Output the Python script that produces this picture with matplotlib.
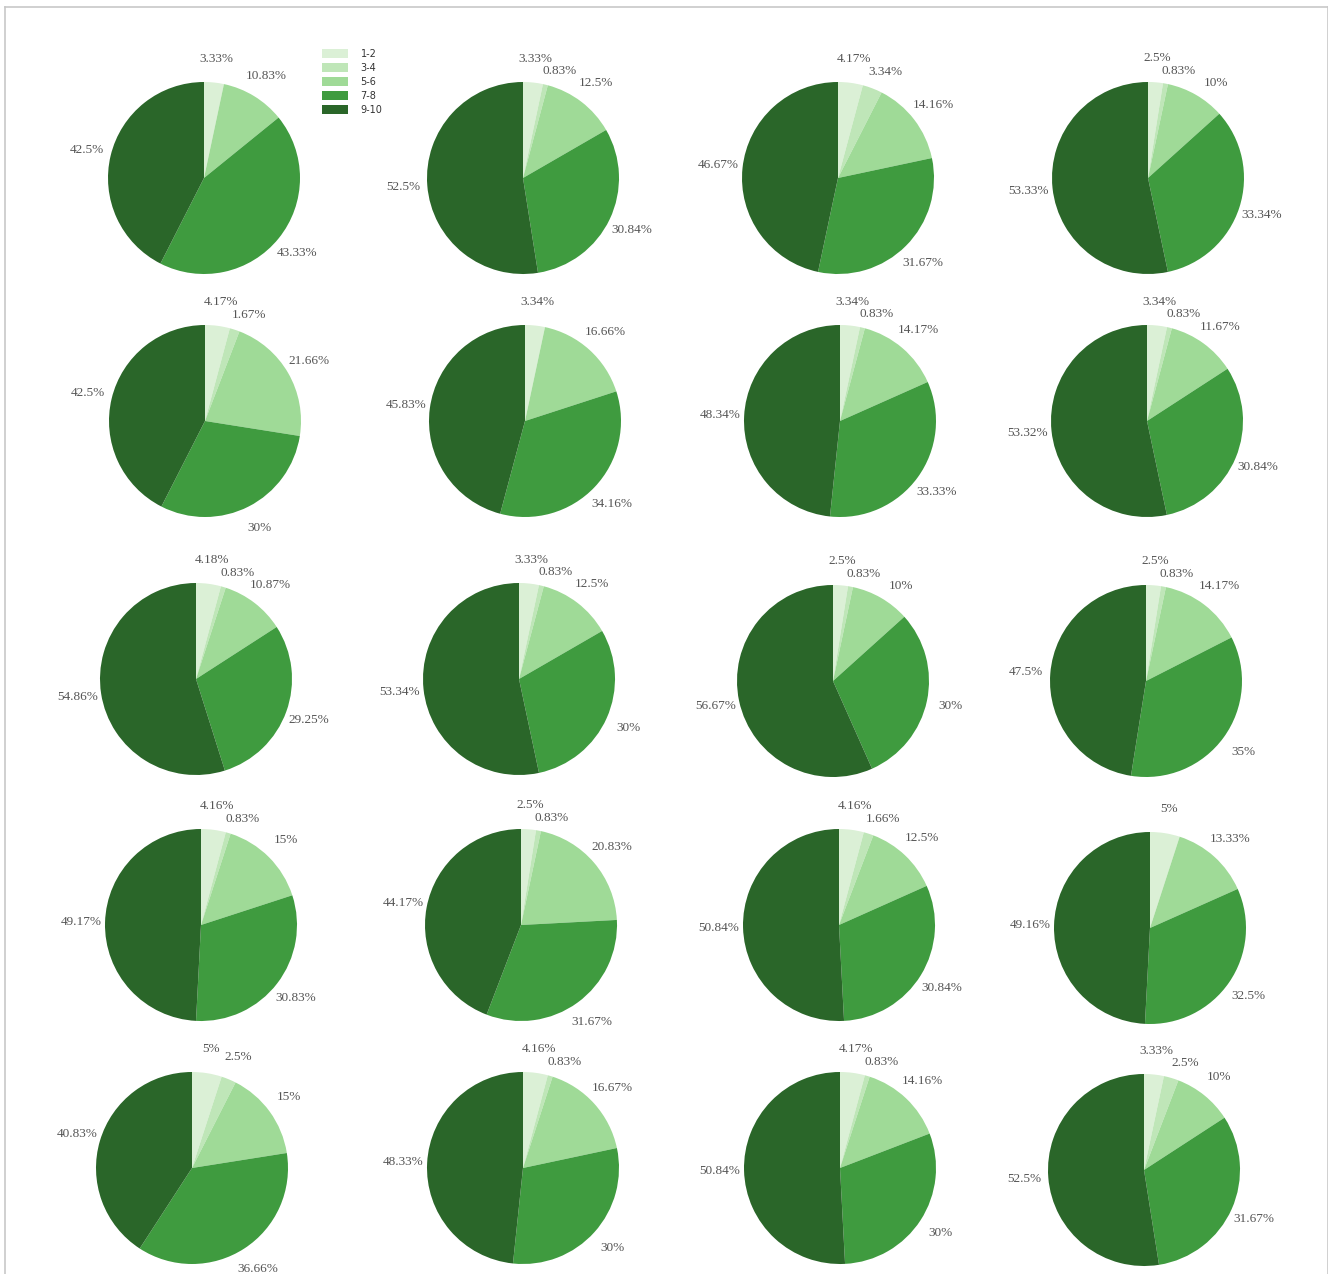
import matplotlib
matplotlib.use("Agg")
import matplotlib.pyplot as plt
from matplotlib.lines import Line2D

categories = ["1-2", "3-4", "5-6", "7-8", "9-10"]
colors = ["#dbf0d6", "#bfe6b8", "#9fda97", "#3f9b3f", "#2a6629"]

# share of each score band, one row per pie (row by row, left to right)
shares = [
    [3.33, 0, 10.83, 43.33, 42.5],
    [3.33, 0.83, 12.5, 30.84, 52.5],
    [4.17, 3.34, 14.16, 31.67, 46.67],
    [2.5, 0.83, 10, 33.34, 53.33],
    [4.17, 1.67, 21.66, 30, 42.5],
    [3.34, 0, 16.66, 34.16, 45.83],
    [3.34, 0.83, 14.17, 33.33, 48.34],
    [3.34, 0.83, 11.67, 30.84, 53.32],
    [4.18, 0.83, 10.87, 29.25, 54.86],
    [3.33, 0.83, 12.5, 30, 53.34],
    [2.5, 0.83, 10, 30, 56.67],
    [2.5, 0.83, 14.17, 35, 47.5],
    [4.16, 0.83, 15, 30.83, 49.17],
    [2.5, 0.83, 20.83, 31.67, 44.17],
    [4.16, 1.66, 12.5, 30.84, 50.84],
    [5, 0, 13.33, 32.5, 49.16],
    [5, 2.5, 15, 36.66, 40.83],
    [4.16, 0.83, 16.67, 30, 48.33],
    [4.17, 0.83, 14.16, 30, 50.84],
    [3.33, 2.5, 10, 31.67, 52.5],
]

W, H = 1328, 1274
fig = plt.figure(figsize=(W / 100, H / 100), dpi=100)

# pie centres in pixels (layout only)
centers = [
    (204, 178), (523, 178), (838, 178), (1148, 178),
    (205, 421), (525, 421), (840, 421), (1147, 421),
    (196, 679), (519, 679), (833, 681), (1146, 681),
    (201, 925), (521, 925), (839, 925), (1150, 928),
    (192, 1168), (523, 1168), (840, 1168), (1144, 1170),
]
R = 96

pies = []
for vals, (cx, cy) in zip(shares, centers):
    ax = fig.add_axes([(cx - R) / W, 1 - (cy + R) / H, 2 * R / W, 2 * R / H])
    labels = [f"{v:g}%" if v > 0 else "" for v in vals]
    wedges, texts = ax.pie(vals, colors=colors, startangle=90, counterclock=False,
                           labels=labels, labeldistance=1.25,
                           wedgeprops=dict(linewidth=0),
                           textprops=dict(family="Liberation Serif", fontsize=9.5,
                                          color="#555555"))
    for t in texts:
        t.set_ha("center")
        t.set_va("center")
    ax.set_xlim(-1, 1)
    ax.set_ylim(-1, 1)
    ax.set_aspect("equal")
    pies.append(texts)
    if vals is shares[0]:
        handles = wedges

# push crowded labels on the right side down a little, like the original
fig.canvas.draw()
renderer = fig.canvas.get_renderer()
gap = 12.5 / R
for texts in pies:
    right = [t for t in texts if t.get_text() and t.get_position()[0] >= 0]
    right.sort(key=lambda t: -t.get_position()[1])
    prev = None
    for t in right:
        x, y = t.get_position()
        w = t.get_window_extent(renderer).width / R
        if prev is not None:
            px, py, pw = prev
            if abs(x - px) < (w + pw) / 2 and y > py - gap:
                d = y - (py - gap)
                t.set_position((x + 0.85 * d, py - gap))
                x, y = x + 0.85 * d, py - gap
        prev = (x, y, w)

leg = fig.legend(handles, categories, loc="upper left",
                 bbox_to_anchor=(313 / W, 1 - 40 / H), frameon=False,
                 handlelength=2.7, handleheight=1.1,
                 labelspacing=0.42, handletextpad=1.3,
                 prop=dict(family="DejaVu Sans", size=7))
for txt in leg.get_texts():
    txt.set_color("#333333")

# thin grey frame round the canvas
fx0, fx1, fy = 4.5 / W, 1327.5 / W, 1 - 6.5 / H
for xs, ys in [([fx0, fx1], [fy, fy]), ([fx0, fx0], [0, fy]), ([fx1, fx1], [0, fy])]:
    fig.add_artist(Line2D(xs, ys, color="#c8c8c8", linewidth=1.2))

fig.savefig("out.png", dpi=100, facecolor="white")
